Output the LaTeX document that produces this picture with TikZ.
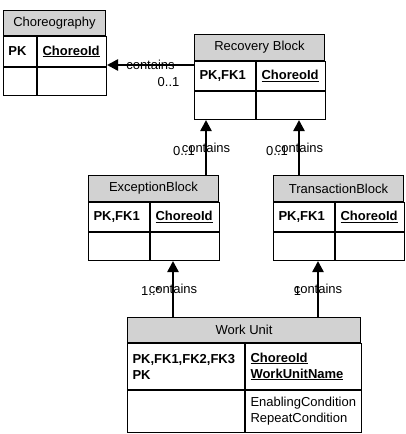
\documentclass[tikz,border=0pt]{standalone}
\usepackage{fontspec}
\setmainfont{Liberation Sans}
\usetikzlibrary{arrows.meta}
\definecolor{TitleGray}{RGB}{210,210,210}

\begin{document}
\begin{tikzpicture}[x=1pt,y=-1pt,font=\fontsize{13}{16}\selectfont]
\tikzstyle{TitleStyle}=[draw,fill=TitleGray,line width=1pt,anchor=north west,inner sep=0pt]
\tikzstyle{CellStyle}=[draw,line width=1pt,anchor=north west,inner xsep=5pt,inner ysep=0pt,align=left]
\tikzstyle{EdgeStyle}=[line width=2.4pt,-{Triangle[length=11pt,width=11pt]}]
\tikzstyle{LabelStyle}=[inner sep=0pt]

\useasboundingbox (0,0) rectangle (406,434);

% Choreography
\node[TitleStyle,minimum width=102,minimum height=25] (chorTitle) at (3,10) {Choreography};
\node[CellStyle,text width=23,minimum height=30] (chorKeyL) at (chorTitle.south west) {\bfseries PK};
\node[CellStyle,text width=59,minimum height=30] (chorKeyR) at (chorKeyL.north east) {\bfseries\underline{ChoreoId}};
\node[CellStyle,text width=23,minimum height=28] (chorBlankL) at (chorKeyL.south west) {};
\node[CellStyle,text width=59,minimum height=28] (chorBlankR) at (chorBlankL.north east) {};

% Recovery Block
\node[TitleStyle,minimum width=130,minimum height=26] (recTitle) at (194,34) {Recovery Block};
\node[CellStyle,text width=51,minimum height=29] (recKeyL) at (recTitle.south west) {\bfseries PK,FK1};
\node[CellStyle,text width=59,minimum height=29] (recKeyR) at (recKeyL.north east) {\bfseries\underline{ChoreoId}};
\node[CellStyle,text width=51,minimum height=28] (recBlankL) at (recKeyL.south west) {};
\node[CellStyle,text width=59,minimum height=28] (recBlankR) at (recBlankL.north east) {};

% ExceptionBlock
\node[TitleStyle,minimum width=130,minimum height=26] (excTitle) at (88,175) {ExceptionBlock};
\node[CellStyle,text width=51,minimum height=29] (excKeyL) at (excTitle.south west) {\bfseries PK,FK1};
\node[CellStyle,text width=59,minimum height=29] (excKeyR) at (excKeyL.north east) {\bfseries\underline{ChoreoId}};
\node[CellStyle,text width=51,minimum height=28] (excBlankL) at (excKeyL.south west) {};
\node[CellStyle,text width=59,minimum height=28] (excBlankR) at (excBlankL.north east) {};

% TransactionBlock
\node[TitleStyle,minimum width=130,minimum height=26] (trTitle) at (273,175) {TransactionBlock};
\node[CellStyle,text width=51,minimum height=29] (trKeyL) at (trTitle.south west) {\bfseries PK,FK1};
\node[CellStyle,text width=59,minimum height=29] (trKeyR) at (trKeyL.north east) {\bfseries\underline{ChoreoId}};
\node[CellStyle,text width=51,minimum height=28] (trBlankL) at (trKeyL.south west) {};
\node[CellStyle,text width=59,minimum height=28] (trBlankR) at (trBlankL.north east) {};

% Work Unit
\node[TitleStyle,minimum width=233,minimum height=25] (wuTitle) at (127,317) {Work Unit};
\node[CellStyle,text width=107,minimum height=46] (wuKeyL) at (wuTitle.south west) {\bfseries PK,FK1,FK2,FK3\\PK};
\node[CellStyle,text width=106,minimum height=46] (wuKeyR) at (wuKeyL.north east) {\bfseries\underline{ChoreoId}\\\underline{WorkUnitName}};
\node[CellStyle,text width=107,minimum height=42] (wuBlankL) at (wuKeyL.south west) {};
\node[CellStyle,text width=106,minimum height=42] (wuBlankR) at (wuBlankL.north east) {EnablingCondition\\RepeatCondition};

\coordinate (recOut) at ([yshift=-4pt]recKeyL.north west);
\coordinate (excOut) at (206,175);
\coordinate (trOut) at (299,175);
\coordinate (wuOutA) at (173,317);
\coordinate (wuOutB) at (318,317);

\draw[EdgeStyle] (recOut) -- (recOut -| chorKeyR.east) node[LabelStyle,midway] (recLbl) {contains};
\draw[EdgeStyle] (excOut) -- (excOut |- recBlankL.south) node[LabelStyle,midway] (excLbl) {contains};
\draw[EdgeStyle] (trOut) -- (trOut |- recBlankR.south) node[LabelStyle,midway] (trLbl) {contains};
\draw[EdgeStyle] (wuOutA) -- (wuOutA |- excBlankR.south) node[LabelStyle,midway] (wuLblA) {contains};
\draw[EdgeStyle] (wuOutB) -- (wuOutB |- trBlankR.south) node[LabelStyle,midway] (wuLblB) {contains};

\node[LabelStyle] (recMult) at (168.5,82) {0..1};
\node[LabelStyle] (excMult) at (184,151) {0..1};
\node[LabelStyle] (trMult) at (277,151) {0..1};
\node[LabelStyle] (wuMultA) at (151,291) {1..*};
\node[LabelStyle] (wuMultB) at (297.5,291) {1};

\end{tikzpicture}
\end{document}
